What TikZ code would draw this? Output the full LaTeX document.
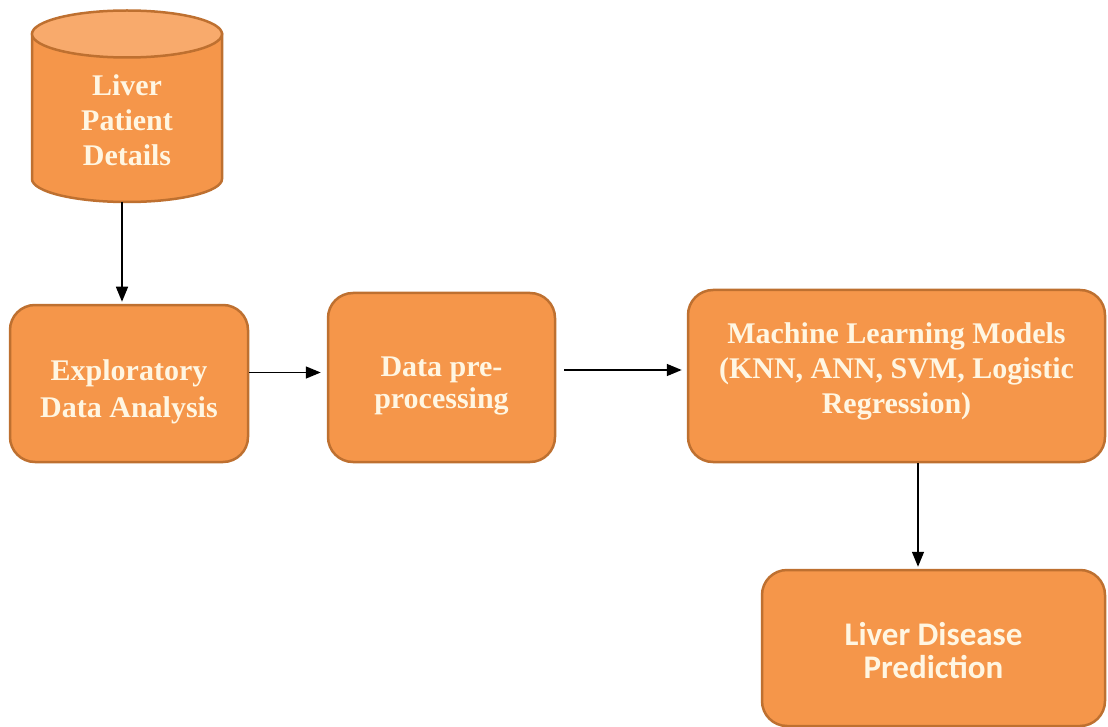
\documentclass[tikz,border=0pt]{standalone}
\usepackage{fontspec}
\setmainfont{Liberation Serif}
\newfontfamily\calibfont{Carlito}
\usetikzlibrary{arrows.meta}
\definecolor{boxfill}{RGB}{245,150,74}
\definecolor{boxedge}{RGB}{190,112,48}
\definecolor{capfill}{RGB}{248,170,108}
\definecolor{boxtext}{RGB}{255,246,226}
\tikzset{
  box/.style={draw=boxedge, fill=boxfill, line width=2.5pt, rounded corners=25pt, inner sep=0pt},
  lbl/.style={text=boxtext, align=center, font=\bfseries\fontsize{30}{35}\selectfont, inner sep=0pt},
  arr/.style={-{Triangle[length=15pt,width=12pt]}, line width=1.5pt, black},
}
\begin{document}
\begin{tikzpicture}[x=1pt,y=-1pt]
\useasboundingbox (0,0) rectangle (1108,727);
% database cylinder
\filldraw[fill=boxfill, draw=boxedge, line width=2.5pt]
  (32,34) -- (32,179) arc[start angle=180, end angle=0, x radius=95, y radius=23]
  -- (222,34) -- cycle;
\filldraw[fill=capfill, draw=boxedge, line width=2.5pt] (127,34) ellipse[x radius=95, y radius=23.5];
\node[lbl] (db) at (127,120) {Liver\\Patient\\Details};
\coordinate (dbbot) at (122,202);
% process boxes
\node[box, minimum width=238pt, minimum height=157pt] (eda) at (129,383.5) {};
\node[lbl] (edatext) at ([yshift=-8pt]eda.center) {Exploratory\\[2pt]Data Analysis};
\node[box, minimum width=227pt, minimum height=169pt] (pre) at (441.5,377.5) {};
\node[lbl, font=\bfseries\fontsize{30}{32}\selectfont] (pretext) at ([yshift=-8.5pt]pre.center) {Data pre-\\processing};
\node[box, minimum width=417pt, minimum height=172pt] (ml) at (896.5,376) {};
\node[lbl] (mltext) at ([yshift=5pt]ml.center) {Machine Learning Models\\(KNN, ANN, SVM, Logistic\\Regression)};
\node[box, minimum width=343pt, minimum height=156pt] (ldp) at (933.5,648) {};
\node[lbl, font=\calibfont\bfseries\fontsize{33}{33}\selectfont] (ldptext) at ([yshift=-3pt]ldp.center) {Liver Disease\\Prediction};
% connectors
\draw[arr, shorten >=2pt] (dbbot) -- (dbbot |- eda.north);
\draw[arr, shorten >=6pt] ([yshift=11pt]eda.east) -- ([yshift=11pt]eda.east -| pre.west);
\draw[arr, shorten <=8pt, shorten >=5pt] ([yshift=7.5pt]pre.east) -- ([yshift=7.5pt]pre.east -| ml.west);
\draw[arr, shorten >=2pt] ([xshift=21.5pt]ml.south) -- ([xshift=21.5pt]ml.south |- ldp.north);
\end{tikzpicture}
\end{document}
